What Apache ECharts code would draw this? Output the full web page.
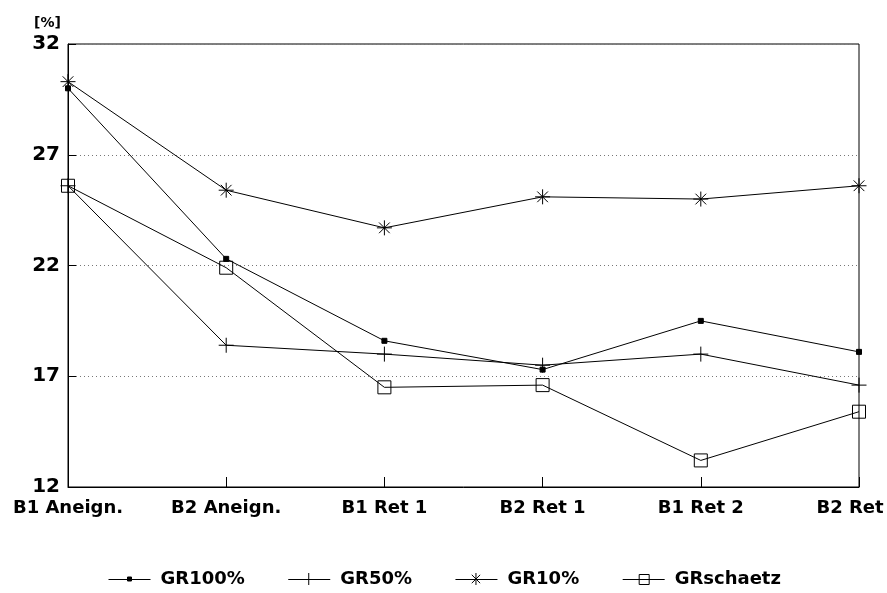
<!DOCTYPE html>
<html>
<head>
<meta charset="utf-8">
<title>GR</title>
<script src="https://cdn.jsdelivr.net/npm/echarts@6/dist/echarts.min.js"></script>
<style>
  html, body { margin: 0; padding: 0; background: #fff; }
  #chart { width: 887px; height: 593px; }
</style>
</head>
<body>
<div id="chart"></div>
<script>
// Phases of the test
const categories = ['B1 Aneign.', 'B2 Aneign.', 'B1 Ret 1', 'B2 Ret 1', 'B1 Ret 2', 'B2 Ret'];

// Percentages per group
const gr100 = [30.0, 22.3, 18.6, 17.3, 19.5, 18.1];
const gr50 = [25.6, 18.4, 18.0, 17.5, 18.0, 16.6];
const gr10 = [30.3, 25.4, 23.7, 25.1, 25.0, 25.6];
const grSchaetz = [25.6, 21.9, 16.5, 16.6, 13.2, 15.4];

const yTicks = { min: 12, max: 32, step: 5 };

const FONT = 'DejaVu Sans';
const plusPath = 'path://M8,0 L8,16 M0,8 L16,8';
const starPath = 'path://M8,0 L8,16 M0,8 L16,8 M2.3,2.3 L13.7,13.7 M13.7,2.3 L2.3,13.7';

// Legend icons: a short line with the series marker in its middle
const legendIcons = {
  'GR100%': 'path://M0,7.5 L42,7.5 M19,5 L23,5 L23,9 L19,9 Z',
  'GR50%': 'path://M0,7.5 L42,7.5 M20.5,1 L20.5,13',
  'GR10%': 'path://M0,7.5 L42,7.5 M20.5,1 L20.5,13 M16.3,2.8 L24.7,11.2 M24.7,2.8 L16.3,11.2',
  'GRschaetz': 'path://M0,7.5 L42,7.5 M16.5,2.5 L26.5,2.5 L26.5,12.5 L16.5,12.5 Z M16.5,1.5 L16.5,1.5'
};

function lineSeries(name, data, symbol, size, filled) {
  return {
    name: name,
    type: 'line',
    data: data,
    symbol: symbol,
    symbolSize: size,
    showAllSymbol: true,
    lineStyle: { color: '#000', width: 1 },
    itemStyle: {
      color: filled ? '#000' : 'rgba(0,0,0,0)',
      borderColor: '#000',
      borderWidth: 1
    },
    emphasis: { disabled: true },
    silent: true
  };
}

const chart = echarts.init(document.getElementById('chart'), null, { renderer: 'canvas' });
chart.setOption({
  animation: false,
  backgroundColor: '#fff',
  title: {
    text: '[%]',
    left: 29,
    top: 11,
    textStyle: { fontFamily: FONT, fontSize: 14, fontWeight: 'bold', color: '#000' }
  },
  grid: {
    left: 68, right: 28, top: 44, bottom: 106,
    show: true, borderColor: '#000', borderWidth: 1, backgroundColor: 'transparent'
  },
  legend: {
    left: 108,
    top: 570,
    padding: 0,
    itemWidth: 42,
    itemHeight: 14,
    itemGap: 43,
    symbolKeepAspect: true,
    itemStyle: { borderColor: '#000', borderWidth: 1 },
    data: Object.keys(legendIcons).map(n => ({ name: n, icon: legendIcons[n] })),
    textStyle: {
      fontFamily: FONT, fontSize: 18, fontWeight: 'bold', color: '#000',
      padding: [0, 0, 0, 5]
    }
  },
  xAxis: {
    type: 'category',
    data: categories.map((c, i) => i === categories.length - 1
      ? { value: c, textStyle: { padding: [0, 18, 0, 0] } }
      : c),
    boundaryGap: false,
    axisLine: { lineStyle: { color: '#000', width: 1 } },
    axisTick: { show: true, inside: true, length: 10, alignWithLabel: true, lineStyle: { color: '#000' } },
    axisLabel: {
      interval: 0,
      margin: 12,
      color: '#000',
      fontFamily: FONT,
      fontSize: 18,
      fontWeight: 'bold'
    },
    splitLine: { show: false }
  },
  yAxis: {
    type: 'value',
    min: yTicks.min,
    max: yTicks.max,
    interval: yTicks.step,
    axisLine: { show: true, lineStyle: { color: '#000', width: 1 } },
    axisTick: { show: true, inside: true, length: 8, lineStyle: { color: '#000' } },
    axisLabel: {
      margin: 8,
      color: '#000',
      fontFamily: FONT,
      fontSize: 20,
      fontWeight: 'bold'
    },
    splitLine: { show: true, lineStyle: { color: '#777', width: 1, type: [1, 3] } }
  },
  series: [
    lineSeries('GR100%', gr100, 'rect', 5, true),
    lineSeries('GR50%', gr50, plusPath, 15, false),
    lineSeries('GR10%', gr10, starPath, 15, false),
    lineSeries('GRschaetz', grSchaetz, 'rect', 13, false)
  ]
});
</script>
</body>
</html>
